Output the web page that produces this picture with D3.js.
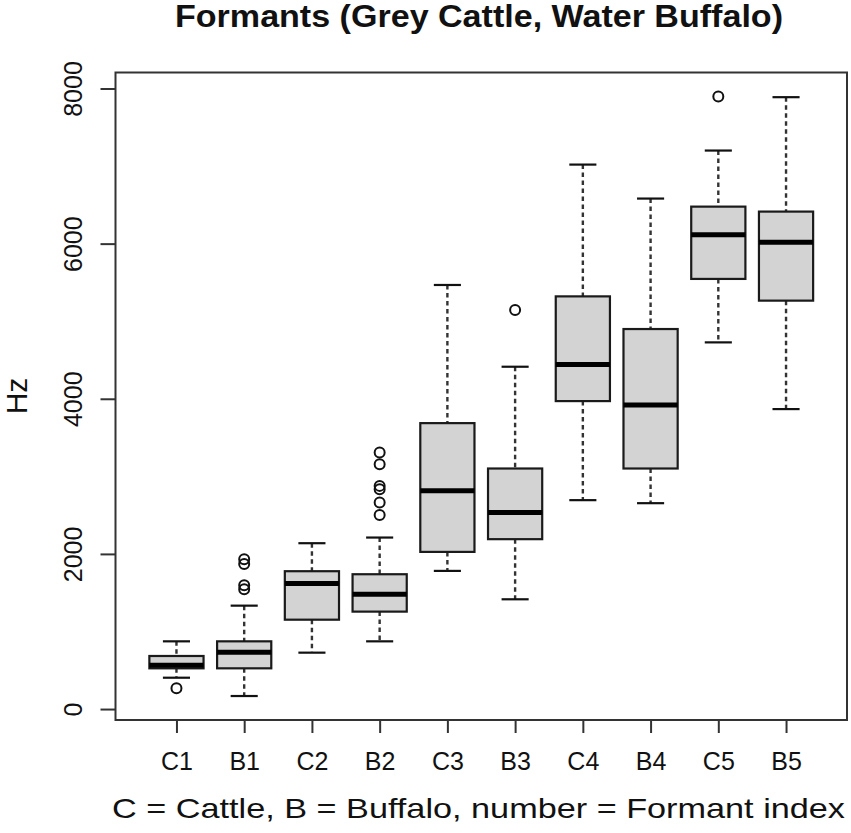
<!DOCTYPE html>
<html>
<head>
<meta charset="utf-8">
<script src="https://cdn.jsdelivr.net/npm/d3@7"></script>
<style>
  body { margin: 0; background: #fff; }
  svg text { font-family: "Liberation Sans", Arial, Helvetica, sans-serif; fill: #111; }
</style>
</head>
<body>
<svg id="chart" width="851" height="833"></svg>
<script>
"use strict";

// Formant boxes (Hz)
var categories  = ["C1", "B1", "C2", "B2", "C3", "B3", "C4", "B4", "C5", "B5"];
var whiskerLow  = [404, 168, 727, 873, 1781, 1415, 2693, 2654, 4727, 3867];
var q1          = [525, 525, 1152, 1256, 2026, 2190, 3970, 3101, 5545, 5265];
var median      = [564, 731, 1617, 1480, 2813, 2533, 4443, 3919, 6116, 6017];
var q3          = [684, 873, 1777, 1738, 3686, 3101, 5320, 4899, 6477, 6413];
var whiskerHigh = [873, 1333, 2138, 2211, 5467, 4413, 7019, 6581, 7200, 7888];
var outliers    = [[267], [1544, 1596, 1871, 1931], [], [2503, 2662, 2834, 2877, 3157, 3307],
                   [], [5145], [], [], [7897], []];
var yTicks = [0, 2000, 4000, 6000, 8000];

var titleStr = "Formants (Grey Cattle, Water Buffalo)";
var xLabelStr = "C = Cattle, B = Buffalo, number = Formant index";
var yLabelStr = "Hz";

var plot = { left: 115.5, top: 72.5, right: 847, bottom: 720 };

var boxes = categories.map(function(c, i) {
	return { name: c, idx: i + 1, lo: whiskerLow[i], q1: q1[i], med: median[i],
		q3: q3[i], hi: whiskerHigh[i], out: outliers[i] };
});

// R style: pad range 4% on each side
var allVals = d3.merge([whiskerLow, whiskerHigh, d3.merge(outliers)]);
var ext = d3.extent(allVals), pad = (ext[1] - ext[0]) * 0.04;

var y = d3.scaleLinear().domain([ext[0] - pad, ext[1] + pad]).range([plot.bottom, plot.top]);
var x = d3.scaleLinear().domain([0.1, categories.length + 0.9]).range([plot.left, plot.right]);

var unit = x(2) - x(1);
var boxW = unit * 0.8, capW = boxW * 0.5;

var svg = d3.select("#chart");

// whiskers (dashed)
var g = svg.append("g").attr("class", "boxes");
var b = g.selectAll(".box").data(boxes).enter().append("g").attr("class", "box");

b.append("line")
	.attr("x1", function(d) { return x(d.idx); }).attr("x2", function(d) { return x(d.idx); })
	.attr("y1", function(d) { return y(d.hi); }).attr("y2", function(d) { return y(d.q3); })
	.attr("stroke", "#333").attr("stroke-width", 2.4).attr("stroke-dasharray", "4.5,3.5");
b.append("line")
	.attr("x1", function(d) { return x(d.idx); }).attr("x2", function(d) { return x(d.idx); })
	.attr("y1", function(d) { return y(d.q1); }).attr("y2", function(d) { return y(d.lo); })
	.attr("stroke", "#333").attr("stroke-width", 2.4).attr("stroke-dasharray", "4.5,3.5");

// staples
["hi", "lo"].forEach(function(k) {
	b.append("line")
		.attr("x1", function(d) { return x(d.idx) - capW / 2; })
		.attr("x2", function(d) { return x(d.idx) + capW / 2; })
		.attr("y1", function(d) { return y(d[k]); }).attr("y2", function(d) { return y(d[k]); })
		.attr("stroke", "#111").attr("stroke-width", 2.2);
});

b.append("rect")
	.attr("x", function(d) { return x(d.idx) - boxW / 2; })
	.attr("width", boxW)
	.attr("y", function(d) { return y(d.q3); })
	.attr("height", function(d) { return y(d.q1) - y(d.q3); })
	.attr("fill", "#d3d3d3").attr("stroke", "#1a1a1a").attr("stroke-width", 2.2);

b.append("line")
	.attr("x1", function(d) { return x(d.idx) - boxW / 2; })
	.attr("x2", function(d) { return x(d.idx) + boxW / 2; })
	.attr("y1", function(d) { return y(d.med); }).attr("y2", function(d) { return y(d.med); })
	.attr("stroke", "#000").attr("stroke-width", 5);

b.selectAll("circle").data(function(d) { return d.out.map(function(v) { return { idx: d.idx, v: v }; }); })
	.enter().append("circle")
	.attr("cx", function(d) { return x(d.idx); })
	.attr("cy", function(d) { return y(d.v); })
	.attr("r", 5)
	.attr("fill", "none").attr("stroke", "#111").attr("stroke-width", 2);

// frame
svg.append("rect")
	.attr("x", plot.left).attr("y", plot.top)
	.attr("width", plot.right - plot.left).attr("height", plot.bottom - plot.top)
	.attr("fill", "none").attr("stroke", "#333").attr("stroke-width", 2);

// y axis
var yAxis = svg.append("g")
	.attr("transform", "translate(" + plot.left + ",0)")
	.call(d3.axisLeft(y).tickValues(yTicks).tickSize(15).tickSizeOuter(0).tickFormat(d3.format("d")));
yAxis.select(".domain").remove();
yAxis.selectAll(".tick line").attr("stroke", "#333").attr("stroke-width", 2);
yAxis.selectAll(".tick text")
	.attr("x", null).attr("dy", null)
	.attr("text-anchor", "middle")
	.attr("transform", "translate(-33.5,0) rotate(-90)")
	.style("font-size", "25px");

// x axis
var xAxis = svg.append("g")
	.attr("transform", "translate(0," + plot.bottom + ")")
	.call(d3.axisBottom(x).tickValues(boxes.map(function(d) { return d.idx; }))
		.tickSize(13).tickSizeOuter(0)
		.tickFormat(function(v) { return categories[v - 1]; }));
xAxis.select(".domain").remove();
xAxis.selectAll(".tick line").attr("stroke", "#333").attr("stroke-width", 2);
xAxis.selectAll(".tick text")
	.attr("y", 50).attr("dy", null)
	.style("font-size", "25px");

// titles
svg.append("text")
	.attr("x", 175).attr("y", 27)
	.attr("textLength", 608).attr("lengthAdjust", "spacingAndGlyphs")
	.style("font-size", "31px").style("font-weight", "bold")
	.text(titleStr);

svg.append("text")
	.attr("x", 112).attr("y", 818)
	.attr("textLength", 733).attr("lengthAdjust", "spacingAndGlyphs")
	.style("font-size", "28px")
	.text(xLabelStr);

svg.append("text")
	.attr("text-anchor", "middle")
	.attr("transform", "translate(27,396) rotate(-90)")
	.style("font-size", "30px")
	.text(yLabelStr);
</script>
</body>
</html>
